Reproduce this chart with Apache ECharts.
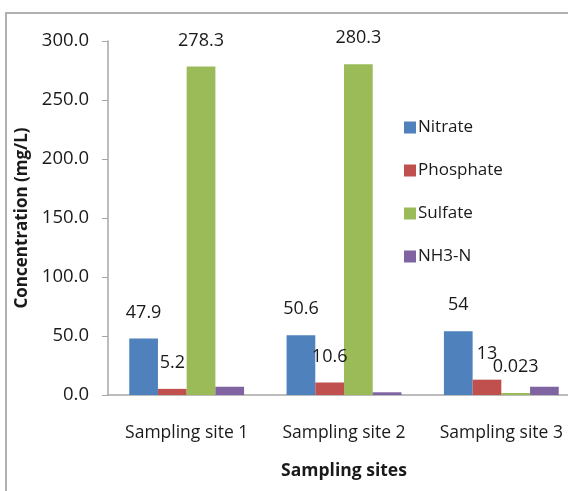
<!DOCTYPE html>
<html>
<head>
<meta charset="utf-8">
<script src="https://cdn.jsdelivr.net/npm/echarts@6/dist/echarts.min.js"></script>
<style>
html,body{margin:0;padding:0;background:#fff;overflow:hidden;width:568px;height:491px;}
#c{width:600px;height:491px;}
</style>
</head>
<body>
<div id="c"></div>
<script>
var categories = ['Sampling site 1', 'Sampling site 2', 'Sampling site 3'];
var nitrate = [47.9, 50.6, 54];
var phosphate = [5.2, 10.6, 13];
var sulfate = [278.3, 280.3, 0.023];
var nh3n = [7.0, 2.3, 7.0];
var yTicks = [0, 50, 100, 150, 200, 250, 300];

var FONT = 'Open Sans';
var chart = echarts.init(document.getElementById('c'), null, {renderer: 'canvas'});

function labelCfg(show) {
  return {
    show: show,
    position: 'top',
    distance: 17,
    color: '#1a1a1a',
    fontFamily: FONT,
    fontSize: 18,
    formatter: function (p) { return String(p.value); }
  };
}

var option = {
  animation: false,
  backgroundColor: '#fff',
  textStyle: {fontFamily: FONT},
  graphic: [{
    type: 'polyline',
    shape: {points: [[6, 600], [6, 13], [620, 13]]},
    style: {stroke: '#b0b0b0', lineWidth: 2, fill: null},
    silent: true
  }],
  grid: {left: 108, width: 472, top: 41, height: 354, containLabel: false},
  legend: {
    orient: 'vertical',
    left: 399,
    top: 114,
    itemWidth: 12,
    itemHeight: 12,
    itemGap: 26,
    icon: 'rect',
    textStyle: {fontFamily: FONT, fontSize: 17, color: '#1a1a1a', padding: [0, 0, 0, -3]},
    data: ['Nitrate', 'Phosphate', 'Sulfate', 'NH3-N']
  },
  xAxis: {
    type: 'category',
    data: categories,
    name: 'Sampling sites',
    nameLocation: 'middle',
    nameGap: 67,
    nameTextStyle: {fontFamily: FONT, fontSize: 17.5, fontWeight: 'bold', color: '#1a1a1a'},
    axisLine: {lineStyle: {color: '#a6a6a6', width: 1.5}},
    axisTick: {show: false},
    axisLabel: {fontFamily: FONT, fontSize: 17.5, color: '#1a1a1a', margin: 29, interval: 0, hideOverlap: false}
  },
  yAxis: {
    type: 'value',
    min: 0,
    max: 300,
    interval: 50,
    name: 'Concentration (mg/L)',
    nameLocation: 'middle',
    nameGap: 76,
    nameTextStyle: {fontFamily: FONT, fontSize: 17, fontWeight: 'bold', color: '#1a1a1a'},
    axisLine: {show: true, lineStyle: {color: '#a6a6a6', width: 1.5}},
    axisTick: {show: true, length: 6, lineStyle: {color: '#a6a6a6'}},
    splitLine: {show: false},
    axisLabel: {
      fontFamily: FONT, fontSize: 18.5, color: '#1a1a1a', margin: 19,
      formatter: function (v) { return yTicks.indexOf(v) >= 0 ? v.toFixed(1) : ''; }
    }
  },
  series: [
    {name: 'Nitrate', type: 'bar', data: nitrate, barGap: '0%', barCategoryGap: '27%',
     itemStyle: {color: '#4F81BD'}, label: labelCfg(true)},
    {name: 'Phosphate', type: 'bar', data: phosphate,
     itemStyle: {color: '#C0504D'}, label: labelCfg(true)},
    {name: 'Sulfate', type: 'bar', data: sulfate, barMinHeight: 2,
     itemStyle: {color: '#9BBB59'}, label: labelCfg(true)},
    {name: 'NH3-N', type: 'bar', data: nh3n,
     itemStyle: {color: '#8064A2'}, label: labelCfg(false)}
  ]
};
chart.setOption(option);
</script>
</body>
</html>
